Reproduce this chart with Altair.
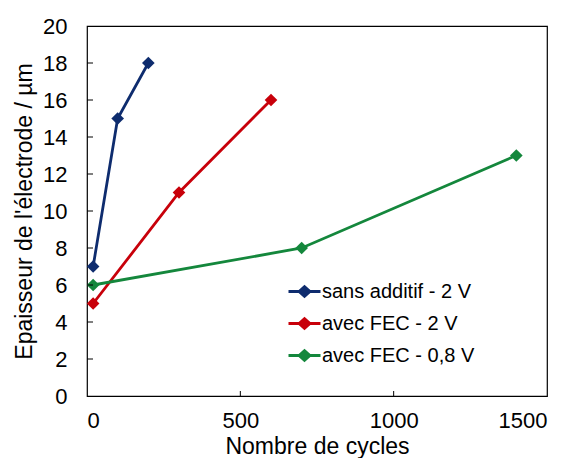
import altair as alt
import pandas as pd

series = ["sans additif - 2 V", "avec FEC - 2 V", "avec FEC - 0,8 V"]
colors = ["#0E2C6E", "#C8000A", "#14873C"]

x_sans = [20, 100, 200]
y_sans = [7, 15, 18]
x_fec2 = [20, 300, 600]
y_fec2 = [5, 11, 16]
x_fec08 = [20, 700, 1400]
y_fec08 = [6, 8, 13]

x_labels = [0, 500, 1000, 1500]
y_labels = [0, 2, 4, 6, 8, 10, 12, 14, 16, 18, 20]
x_ticks = [500, 1000]
y_ticks = [2, 4, 6, 8, 10, 12, 14, 16, 18]

rows = []
for name, xs, ys in [(series[0], x_sans, y_sans), (series[1], x_fec2, y_fec2), (series[2], x_fec08, y_fec08)]:
    for xv, yv in zip(xs, ys):
        rows.append({"serie": name, "cycles": xv, "ep": yv})
df = pd.DataFrame(rows)

W, H = 460, 370
FONT = "Liberation Sans"

xscale = alt.Scale(domain=[0, 1500], nice=False)
yscale = alt.Scale(domain=[0, 20], nice=False)

xaxis = alt.Axis(values=x_labels, ticks=False, grid=False, format="d",
                 labelPadding=14, titlePadding=4, domain=False, labelOverlap=False)
yaxis = alt.Axis(values=y_labels, ticks=False, grid=False, format="d",
                 labelPadding=20, titlePadding=6, domain=False, labelOverlap=False)
XT = "Nombre de cycles"
YT = "Epaisseur de l'électrode / µm"

legend_path = "M-1,0H1M-0.34,0L0,-0.3L0.34,0L0,0.3Z"

lines = alt.Chart(df).mark_line(
    strokeWidth=2.8,
    point=alt.OverlayMarkDef(shape="diamond", filled=True, size=160),
).encode(
    x=alt.X("cycles:Q", scale=xscale, title=XT, axis=xaxis),
    y=alt.Y("ep:Q", scale=yscale, title=YT, axis=yaxis),
    color=alt.Color("serie:N", sort=series,
                    scale=alt.Scale(domain=series, range=colors),
                    legend=alt.Legend(title=None, orient="none", legendX=200, legendY=248,
                                      symbolType=legend_path, symbolSize=1024,
                                      symbolStrokeWidth=2.8, labelFontSize=20,
                                      labelFont=FONT, labelColor="#000000",
                                      rowPadding=4, labelOffset=0)),
)

xt = alt.Chart(pd.DataFrame({"v": x_ticks})).mark_rule(color="black", strokeWidth=1).encode(
    x=alt.X("v:Q", scale=xscale, title=XT, axis=xaxis), y=alt.value(H), y2=alt.value(H - 5)
)
yt = alt.Chart(pd.DataFrame({"v": y_ticks})).mark_rule(color="black", strokeWidth=1).encode(
    y=alt.Y("v:Q", scale=yscale, title=YT, axis=yaxis), x=alt.value(0), x2=alt.value(6)
)

chart = alt.layer(lines, xt, yt).properties(
    width=W, height=H, padding={"left": 5, "top": 7, "right": 5, "bottom": 0}
).configure_view(
    stroke="black", strokeWidth=1.2
).configure_axis(
    labelFont=FONT, titleFont=FONT, labelFontSize=22, titleFontSize=23,
    labelColor="#000000", titleColor="#000000", titleFontWeight="normal"
)

chart.save("out.html", embed_options={"renderer": "svg", "actions": False})
